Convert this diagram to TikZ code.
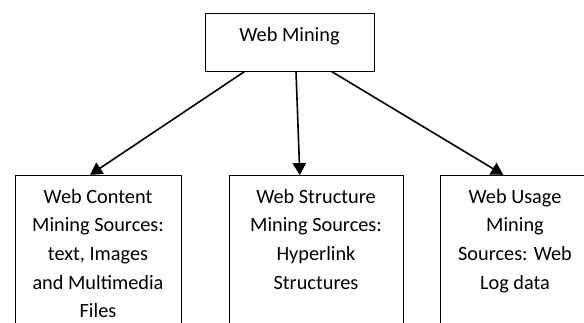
\documentclass[tikz,border=0pt]{standalone}
\usepackage{fontspec}
\setmainfont{Carlito}
\usetikzlibrary{arrows.meta,calc}
\begin{document}
\begin{tikzpicture}[x=1pt,y=-1pt,
  box/.style={draw,line width=0.9pt,inner sep=0pt,rectangle},
  label/.style={inner sep=0pt,align=center,anchor=north,font=\fontsize{20.3}{28.6}\selectfont},
  conn/.style={line width=1.6pt,-{Triangle[length=12pt,width=13.5pt]},shorten >=-0.5pt}]
\useasboundingbox (0,0) rectangle (584,322);
\clip (0,0) rectangle (584,322);
\node[box,minimum width=169pt,minimum height=58pt] (top) at (289.5,42) {};
\node[box,minimum width=166pt,minimum height=200pt] (left) at (98,275) {};
\node[box,minimum width=174pt,minimum height=200pt] (mid) at (316,275) {};
\node[box,minimum width=150pt,minimum height=200pt] (right) at (515,275) {};
\node[label] (ttop) at (289.5,27.5) {Web Mining};
\node[label] (tleft) at (98,189) {Web Content\\Mining Sources:\\text, Images\\and Multimedia\\Files};
\node[label] (tmid) at (316,189) {Web Structure\\Mining Sources:\\Hyperlink\\Structures};
\node[label] (tright) at (515,189) {Web Usage\\Mining\\Sources: Web\\Log data};
\draw[conn] ([xshift=-44.8pt]top.south) -- ([xshift=-7.5pt]left.north);
\draw[conn] ([xshift=6.5pt]top.south) -- ([xshift=-16.2pt]mid.north);
\draw[conn] ([xshift=42pt]top.south) -- ([xshift=-12.2pt]right.north);
\end{tikzpicture}
\end{document}
